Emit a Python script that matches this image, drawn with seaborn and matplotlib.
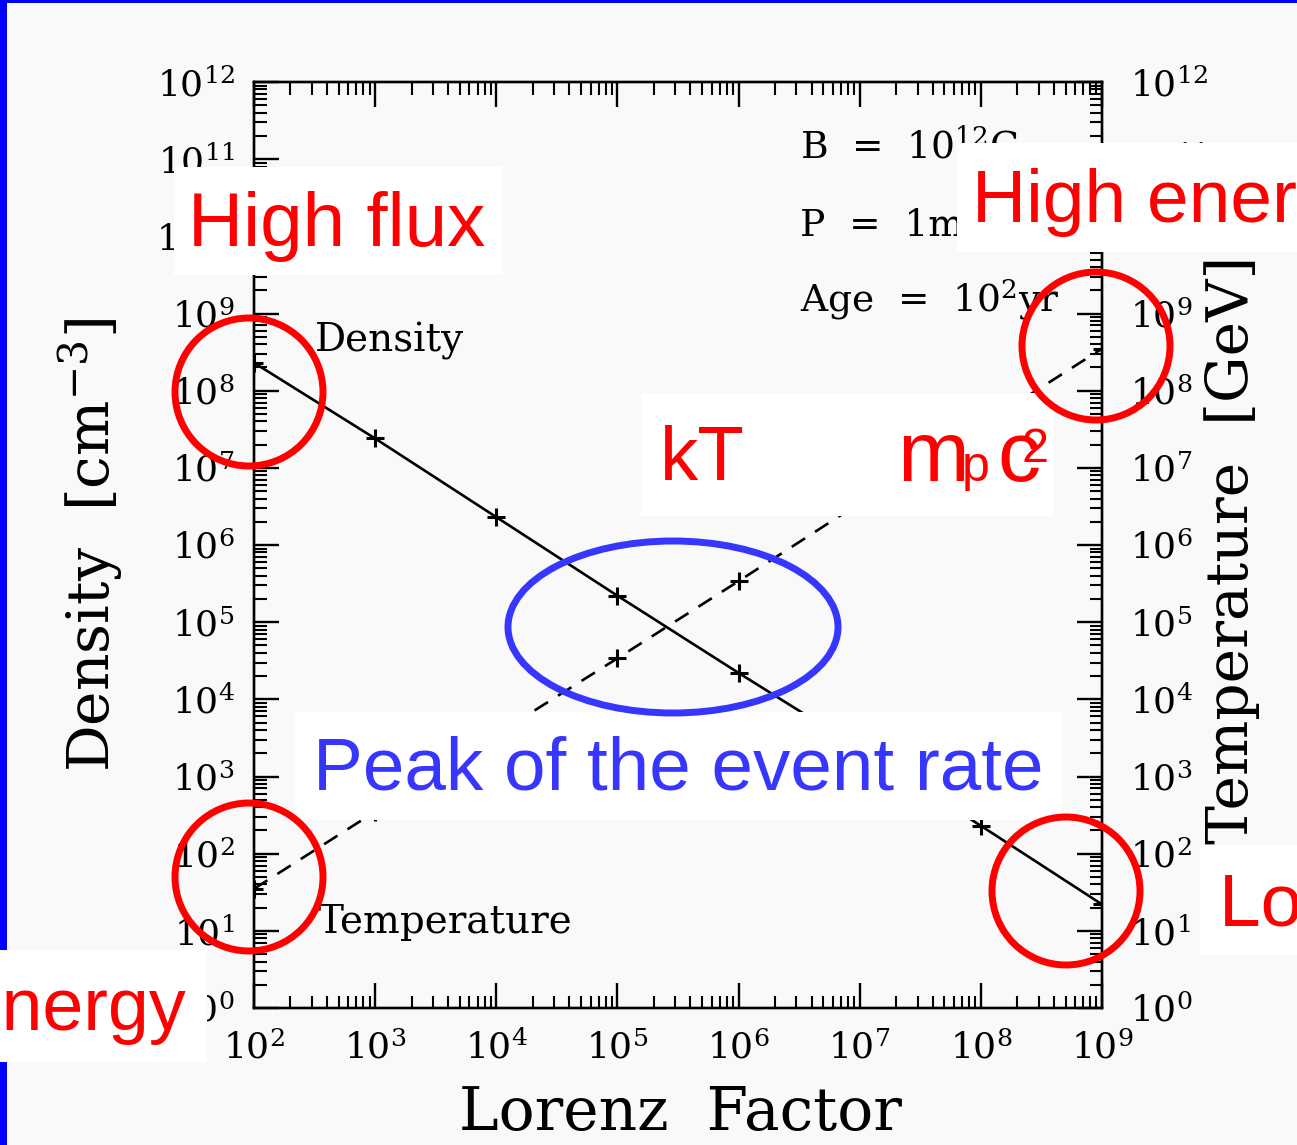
import numpy as np
import pandas as pd
import matplotlib
matplotlib.use("Agg")
import matplotlib.pyplot as plt
from matplotlib.patches import Rectangle, Ellipse
from matplotlib.ticker import FixedLocator, LogLocator, NullFormatter, FuncFormatter
import seaborn as sns

# Values along the Lorentz-factor grid
lorentz = [1e2, 1e3, 1e4, 1e5, 1e6, 1e7, 1e8, 1e9]
density = [2.3e8, 2.4e7, 2.3e6, 2.2e5, 2.2e4, 2.3e3, 2.3e2, 2.2e1]
temperature = [35, 3.5e2, 3.5e3, 3.4e4, 3.4e5, 3.5e6, 3.5e7, 3.5e8]

x_decades = [2, 3, 4, 5, 6, 7, 8, 9]
y_decades = list(range(0, 13))

param_lines = [r"B  =  10$^{12}$G", r"P  =  1ms", r"Age  =  10$^{2}$yr"]

W, H = 1297, 1145
BG = "#f9f9f9"
RED = "#ff0000"
BLUE = "#3636ff"

sns.set_style("ticks")
plt.rcParams["font.family"] = ["DejaVu Serif"]
plt.rcParams["mathtext.fontset"] = "dejavuserif"
plt.rcParams["mathtext.default"] = "regular"
for key in ["text.color", "axes.labelcolor", "xtick.color", "ytick.color", "axes.edgecolor"]:
    plt.rcParams[key] = "black"

fig = plt.figure(figsize=(W / 100, H / 100), dpi=100, facecolor=BG)


def fx(px):
    return px / W


def fy(py):
    return 1 - py / H


ax = fig.add_axes([fx(254), fy(1008), (1102 - 254) / W, (1008 - 82) / H])
ax.set_facecolor(BG)
ax.set_xscale("log")
ax.set_yscale("log")

df = pd.DataFrame({
    "lorentz": lorentz + lorentz,
    "value": density + temperature,
    "quantity": ["Density"] * len(lorentz) + ["Temperature"] * len(lorentz),
})

sns.lineplot(
    data=df, x="lorentz", y="value", style="quantity",
    dashes={"Density": "", "Temperature": (6, 4.5)},
    markers={"Density": "+", "Temperature": "+"},
    color="black", linewidth=1.9, markersize=13, markeredgewidth=2.2,
    markeredgecolor="black", legend=False, ax=ax,
)

ax.set_xlim(1e2, 1e9)
ax.set_ylim(1e0, 1e12)

dec_fmt = FuncFormatter(lambda v, pos: r"$10^{%d}$" % round(np.log10(v)))

ax.xaxis.set_major_locator(FixedLocator([10.0 ** k for k in x_decades]))
ax.xaxis.set_minor_locator(LogLocator(base=10, subs=np.arange(2, 10), numticks=100))
ax.xaxis.set_major_formatter(dec_fmt)
ax.xaxis.set_minor_formatter(NullFormatter())
ax.yaxis.set_major_locator(FixedLocator([10.0 ** k for k in y_decades]))
ax.yaxis.set_minor_locator(LogLocator(base=10, subs=np.arange(2, 10), numticks=100))
ax.yaxis.set_major_formatter(dec_fmt)
ax.yaxis.set_minor_formatter(NullFormatter())

for sp in ax.spines.values():
    sp.set_linewidth(1.7)
    sp.set_visible(True)

ax.tick_params(axis="x", which="both", direction="in", top=True, bottom=True,
               labeltop=False, labelsize=26, pad=16)
ax.tick_params(axis="y", which="both", direction="in", left=True, right=False,
               labelsize=26, pad=14)
ax.tick_params(which="major", length=18, width=1.7)
ax.tick_params(which="minor", length=9, width=1.5)

ax2 = ax.twinx()
ax2.set_yscale("log")
ax2.set_ylim(1e0, 1e12)
ax2.yaxis.set_major_locator(FixedLocator([10.0 ** k for k in y_decades]))
ax2.yaxis.set_minor_locator(LogLocator(base=10, subs=np.arange(2, 10), numticks=100))
ax2.yaxis.set_major_formatter(dec_fmt)
ax2.yaxis.set_minor_formatter(NullFormatter())
ax2.tick_params(axis="y", which="both", direction="in", right=True, left=False,
                labelsize=26, pad=20)
ax2.tick_params(which="major", length=18, width=1.7)
ax2.tick_params(which="minor", length=9, width=1.5)
for sp in ax2.spines.values():
    sp.set_linewidth(1.7)

ax.set_xlabel("Lorenz  Factor", fontsize=43)
ax.xaxis.set_label_coords((680 - 254) / 848, (1008 - 1084) / 926)
ax.set_ylabel(r"Density  [cm$^{-3}$]", fontsize=42)
ax.yaxis.set_label_coords((125 - 254) / 848, 0.5)
ax2.set_ylabel("Temperature  [GeV]", fontsize=42)
ax2.yaxis.set_label_coords((1204 - 254) / 848, 0.495)

# curve names and model parameters
ax.text(fx(315), fy(352), "Density", transform=fig.transFigure, fontsize=28, va="baseline")
ax.text(fx(318), fy(933), "Temperature", transform=fig.transFigure, fontsize=28, va="baseline")
for txt, base in zip(param_lines, [158, 235, 312]):
    ax.text(fx(800), fy(base), txt, transform=fig.transFigure, fontsize=27, va="baseline")

# slide overlays: frame strips, white label boxes, highlight rings
fig.add_artist(Rectangle((0, 0), fx(7), 1, transform=fig.transFigure,
                         facecolor="#0000ff", edgecolor="none", zorder=5))
fig.add_artist(Rectangle((0, fy(3)), 1, 3 / H, transform=fig.transFigure,
                         facecolor="#0000ff", edgecolor="none", zorder=5))


def white_box(x0, y0, x1, y1):
    fig.add_artist(Rectangle((fx(x0), fy(y1)), (x1 - x0) / W, (y1 - y0) / H,
                             transform=fig.transFigure, facecolor="white",
                             edgecolor="none", zorder=10))


white_box(174, 167, 503, 275)
white_box(957, 143, 1297, 252)
white_box(641, 393, 1053, 516)
white_box(295, 712, 1062, 820)
white_box(1200, 845, 1297, 955)
white_box(0, 950, 207, 1062)

sans = ["Liberation Sans", "DejaVu Sans"]


def label(x, y, s, color=RED, size=54, ha="left"):
    fig.text(fx(x), fy(y), s, color=color, fontsize=size, family=sans,
             ha=ha, va="baseline", zorder=12)


label(188, 246, "High flux", size=55)
label(972, 222, "High energy")
label(660, 480, "kT", size=55)
label(313, 790, "Peak of the event rate", color=BLUE, size=53.8)
label(1219, 925, "Low flux")
label(186, 1030, "Low energy", ha="right", size=53)
# m_p c^2
label(897, 481, "m", size=62)
label(962, 481, "p", size=36)
label(997, 481, "c", size=62)
label(1022, 462, "2", size=35)


def ring(cx, cy, rx, ry, color):
    fig.add_artist(Ellipse((fx(cx), fy(cy)), 2 * rx / W, 2 * ry / H,
                           transform=fig.transFigure, facecolor="none",
                           edgecolor=color, linewidth=5, zorder=14))


ring(249, 392, 74, 74, RED)
ring(1096, 346, 74, 74, RED)
ring(249, 877, 74, 74, RED)
ring(1066, 891, 74, 74, RED)
ring(673, 627, 165, 86, BLUE)

fig.savefig("out.png", dpi=100, facecolor=BG)
